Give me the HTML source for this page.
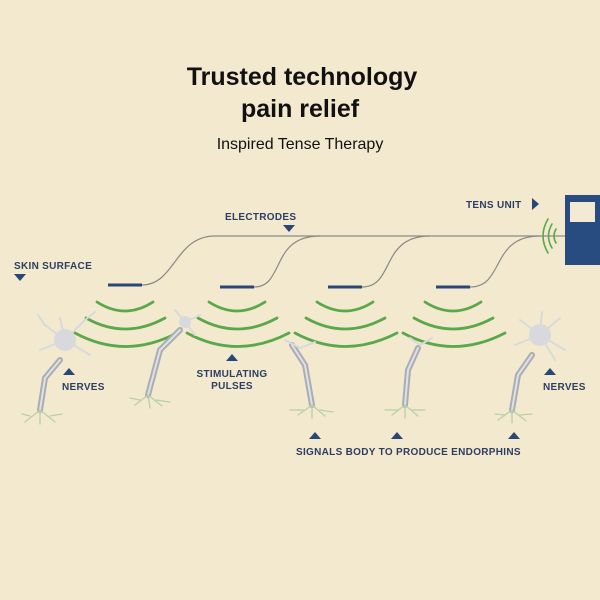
<!DOCTYPE html>
<html><head><style>
body{margin:0;background:#f3e9cf;}
svg{display:block}
.t{font-family:"Liberation Sans",sans-serif;font-weight:bold;fill:#2c3e62;font-size:10px;letter-spacing:0.3px}
</style></head><body>
<svg width="600" height="600" viewBox="0 0 600 600">
<rect width="600" height="600" fill="#f3e9cf"/>
<text x="302" y="85" text-anchor="middle" font-family="Liberation Sans,sans-serif" font-weight="bold" font-size="25" fill="#111">Trusted technology</text>
<text x="300" y="117" text-anchor="middle" font-family="Liberation Sans,sans-serif" font-weight="bold" font-size="25" fill="#111">pain relief</text>
<text x="300" y="149" text-anchor="middle" font-family="Liberation Sans,sans-serif" font-size="16" fill="#111">Inspired Tense Therapy</text>

<g fill="none" stroke="#8a8a84" stroke-width="1.2">
<path d="M142 285 C175 285 175 236 215 236 L565 236"/>
<path d="M254 287 C285 287 270 236 320 236"/>
<path d="M362 287 C395 287 380 236 430 236"/>
<path d="M470 287 C505 287 490 236 540 236"/>
</g>
<g stroke="#2a4677" stroke-width="3">
<line x1="108" y1="285" x2="142" y2="285"/>
<line x1="220" y1="287" x2="254" y2="287"/>
<line x1="328" y1="287" x2="362" y2="287"/>
<line x1="436" y1="287" x2="470" y2="287"/>
</g>
<g fill="none" stroke="#5aa84a" stroke-width="2.8" stroke-linecap="round">
<g id="p"><path d="M97 302 Q125 320 153 302"/><path d="M86 318 Q125 340 165 318"/><path d="M75 333 Q125 360 177 333"/></g>
<use href="#p" x="112"/><use href="#p" x="220"/><use href="#p" x="328"/>
</g>
<g fill="none" stroke="#5aa84a" stroke-width="1.6" stroke-linecap="round">
<path d="M556 229 Q552 236 556 243"/><path d="M552 224 Q545 236 552 248"/><path d="M548 219 Q538 236 548 253"/>
</g>
<rect x="565" y="195" width="40" height="70" fill="#284b80"/>
<rect x="570" y="202" width="25" height="20" fill="#f3ead3"/>

<g fill="none" stroke-linecap="round">
<g stroke="#a9adb5" stroke-width="6">
<path d="M60 360 L45 378 L40 410"/>
<path d="M180 330 L160 350 L148 395"/>
<path d="M292 345 L305 365 L312 405"/>
<path d="M418 348 L408 370 L405 405"/>
<path d="M532 355 L518 375 L512 410"/>
</g>
<g stroke="#dfe1e4" stroke-width="2">
<path d="M60 360 L45 378 L40 410"/>
<path d="M180 330 L160 350 L148 395"/>
<path d="M292 345 L305 365 L312 405"/>
<path d="M418 348 L408 370 L405 405"/>
<path d="M532 355 L518 375 L512 410"/>
</g>
<g stroke="#b9d0a4" stroke-width="1.3">
<path d="M40 410 L25 422 M40 410 L55 422 M40 410 L40 424 M30 416 L22 414 M50 416 L62 414"/>
<path d="M148 395 L135 405 M148 395 L162 406 M148 395 L150 408 M140 400 L130 398 M156 400 L170 402"/>
<path d="M312 405 L298 415 M312 405 L325 416 M312 405 L312 418 M303 410 L290 410 M320 410 L333 412"/>
<path d="M405 405 L392 415 M405 405 L418 416 M405 405 L405 418 M398 410 L385 410 M412 410 L425 410"/>
<path d="M512 410 L498 420 M512 410 L526 421 M512 410 L512 423 M505 415 L495 414 M519 415 L532 414"/>
</g>
<g stroke="#d7d9dc" stroke-width="2">
<path d="M65 340 L45 325 M65 340 L40 350 M65 340 L85 320 M65 340 L90 355 M65 340 L60 318 M45 325 L38 315 M85 320 L95 312"/>
<path d="M185 322 L175 310 M185 322 L200 315 M185 322 L195 335 M300 348 L285 340 M300 348 L315 342 M420 345 L432 338 M420 345 L410 338"/>
<path d="M540 335 L520 320 M540 335 L515 345 M540 335 L560 318 M540 335 L565 350 M540 335 L542 312 M540 335 L555 360"/>
</g>
</g>
<circle cx="65" cy="340" r="11" fill="#d7d9dc"/>
<circle cx="185" cy="322" r="6" fill="#d7d9dc"/>
<circle cx="540" cy="335" r="11" fill="#d7d9dc"/>

<text class="t" x="225" y="220">ELECTRODES</text>
<path d="M283 225 L295 225 L289 232 Z" fill="#2a4677"/>
<text class="t" x="14" y="269">SKIN SURFACE</text>
<path d="M14 274 L26 274 L20 281 Z" fill="#2a4677"/>
<text class="t" x="466" y="208">TENS UNIT</text>
<path d="M532 198 L539 204 L532 210 Z" fill="#2a4677"/>
<path d="M63 375 L75 375 L69 368 Z" fill="#2a4677"/>
<text class="t" x="62" y="390">NERVES</text>
<path d="M226 361 L238 361 L232 354 Z" fill="#2a4677"/>
<text class="t" x="232" y="377" text-anchor="middle">STIMULATING</text>
<text class="t" x="232" y="389" text-anchor="middle">PULSES</text>
<path d="M544 375 L556 375 L550 368 Z" fill="#2a4677"/>
<text class="t" x="543" y="390">NERVES</text>
<path d="M309 439 L321 439 L315 432 Z" fill="#2a4677"/>
<path d="M391 439 L403 439 L397 432 Z" fill="#2a4677"/>
<path d="M508 439 L520 439 L514 432 Z" fill="#2a4677"/>
<text class="t" x="296" y="455">SIGNALS BODY TO PRODUCE ENDORPHINS</text>
</svg>
</body></html>
